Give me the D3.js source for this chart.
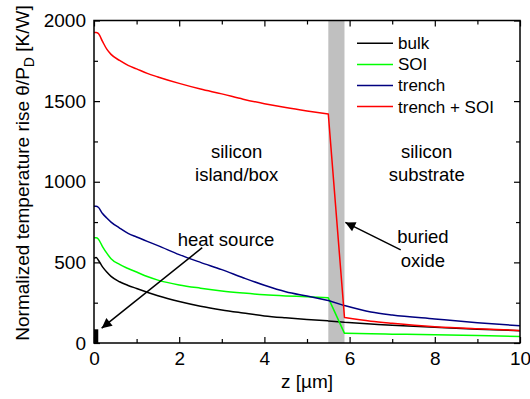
<!DOCTYPE html>
<html>
<head>
<meta charset="utf-8">
<script src="https://cdn.jsdelivr.net/npm/d3@7"></script>
<style>
  body { margin: 0; background: #fff; }
  text { font-family: Arial, "Liberation Sans", sans-serif; fill: #000; }
</style>
</head>
<body>
<div id="chart"></div>
<script>
// Data
const zValues   = [0, 0.05, 0.1, 0.2, 0.3, 0.4, 0.6, 0.8, 1.0, 1.25, 1.5, 2.0, 2.5, 3.0, 3.5, 4.0, 4.5, 5.0, 5.5, 5.88, 6.5, 7, 8, 9, 10];
const bulk      = [525, 530, 515, 472, 440, 413, 380, 357, 338, 315, 293, 257, 228, 205, 186, 168, 156, 146, 137, 128, 118, 110, 97, 86, 76];
const soi       = [652, 652, 645, 598, 557, 523, 487, 462, 440, 412, 390, 360, 340, 323, 310, 299, 292, 287, 280, 60, 57, 55, 51, 46, 41];
const trench    = [848, 848, 842, 803, 775, 750, 713, 680, 657, 630, 604, 548, 500, 455, 405, 358, 318, 291, 264, 232, 192, 173, 149, 126, 107];
const trenchSoi = [1925, 1925, 1920, 1870, 1822, 1790, 1752, 1722, 1700, 1672, 1650, 1610, 1575, 1545, 1512, 1484, 1460, 1439, 1420, 158, 135, 122, 101, 88, 78];

const seriesNames  = ["bulk", "SOI", "trench", "trench + SOI"];
const seriesColors = ["#000000", "#00ff00", "#000080", "#ff0000"];
const seriesData   = [bulk, soi, trench, trenchSoi];

const oxideBand  = [5.5, 5.88];
const heatSource = { z0: 0, z1: 0.1, value: 85 };

const xTicks = [0, 2, 4, 6, 8, 10];
const yTicks = [0, 500, 1000, 1500, 2000];

// Chart dimensions
const W = 530, H = 399;
const margin = { top: 20.5, right: 10, bottom: 56, left: 94 };
const width = W - margin.left - margin.right;
const height = H - margin.top - margin.bottom;

const x = d3.scaleLinear().domain([0, 10]).range([0, width]);
const y = d3.scaleLinear().domain([0, 2000]).range([height, 0]);

const svg = d3.select("#chart").append("svg")
    .attr("width", W)
    .attr("height", H)
  .append("g")
    .attr("transform", `translate(${margin.left},${margin.top})`);

svg.append("defs").append("marker")
    .attr("id", "arrow")
    .attr("viewBox", "0 0 10 10")
    .attr("refX", 10)
    .attr("refY", 5)
    .attr("markerWidth", 12)
    .attr("markerHeight", 10)
    .attr("markerUnits", "userSpaceOnUse")
    .attr("orient", "auto")
  .append("path")
    .attr("d", "M0,0L10,5L0,10z")
    .attr("fill", "#000");

// buried oxide band
svg.append("rect")
    .attr("x", x(oxideBand[0]))
    .attr("y", 0)
    .attr("width", x(oxideBand[1]) - x(oxideBand[0]))
    .attr("height", height)
    .attr("fill", "#c0c0c0");

// heat source block
svg.append("rect")
    .attr("x", x(heatSource.z0))
    .attr("y", y(heatSource.value))
    .attr("width", x(heatSource.z1) - x(heatSource.z0))
    .attr("height", y(0) - y(heatSource.value))
    .attr("fill", "#000");

// curves: smooth in silicon, straight through the oxide
const smooth = d3.line()
    .curve(d3.curveMonotoneX)
    .x(d => x(d[0]))
    .y(d => y(d[1]));
const straight = d3.line()
    .x(d => x(d[0]))
    .y(d => y(d[1]));

seriesData.forEach((vals, i) => {
    const pts = zValues.map((z, j) => [z, vals[j]]);
    const island = pts.filter(p => p[0] <= oxideBand[0]);
    const oxide = pts.filter(p => p[0] >= oxideBand[0] && p[0] <= oxideBand[1]);
    const substrate = pts.filter(p => p[0] >= oxideBand[1]);
    const d = smooth(island) + straight(oxide).replace(/^M/, "L") + smooth(substrate).replace(/^M/, "L");
    svg.append("path")
        .attr("fill", "none")
        .attr("stroke", seriesColors[i])
        .attr("stroke-width", 1.5)
        .attr("stroke-linejoin", "round")
        .attr("d", d);
});

// axes with inward ticks
const minorX = d3.range(1, 10, 2);
const minorY = d3.range(250, 2000, 500);

function styleAxis(g) {
    g.select(".domain").remove();
    g.selectAll("line").attr("stroke", "#000").attr("stroke-width", 1.2);
    g.selectAll("text").style("font-size", "19px");
}

svg.append("g")
    .attr("transform", `translate(0,${height})`)
    .call(d3.axisBottom(x).tickValues(xTicks).tickSize(-6).tickPadding(9))
    .call(styleAxis);
svg.append("g")
    .attr("transform", `translate(0,${height})`)
    .call(d3.axisBottom(x).tickValues(minorX).tickSize(-4).tickFormat(""))
    .call(styleAxis);
svg.append("g")
    .call(d3.axisTop(x).tickValues(xTicks).tickSize(-6).tickFormat(""))
    .call(styleAxis);
svg.append("g")
    .call(d3.axisTop(x).tickValues(minorX).tickSize(-4).tickFormat(""))
    .call(styleAxis);

svg.append("g")
    .call(d3.axisLeft(y).tickValues(yTicks).tickSize(-6).tickPadding(8).tickFormat(d3.format("d")))
    .call(styleAxis);
svg.append("g")
    .call(d3.axisLeft(y).tickValues(minorY).tickSize(-4).tickFormat(""))
    .call(styleAxis);
svg.append("g")
    .attr("transform", `translate(${width},0)`)
    .call(d3.axisRight(y).tickValues(yTicks).tickSize(-6).tickFormat(""))
    .call(styleAxis);
svg.append("g")
    .attr("transform", `translate(${width},0)`)
    .call(d3.axisRight(y).tickValues(minorY).tickSize(-4).tickFormat(""))
    .call(styleAxis);

// frame
svg.append("rect")
    .attr("width", width)
    .attr("height", height)
    .attr("fill", "none")
    .attr("stroke", "#000")
    .attr("stroke-width", 1.5);

// axis titles
svg.append("text")
    .attr("x", width / 2)
    .attr("y", height + 45)
    .attr("text-anchor", "middle")
    .style("font-size", "19px")
    .text("z [µm]");

const yLabel = svg.append("text")
    .attr("transform", `translate(${29 - margin.left},${173 - margin.top}) rotate(-90)`)
    .attr("text-anchor", "middle")
    .style("font-size", "19px");
yLabel.append("tspan").text("Normalized temperature rise θ/P");
yLabel.append("tspan").attr("dy", 5).style("font-size", "14px").text("D");
yLabel.append("tspan").attr("dy", -5).text(" [K/W]");

// legend
const legend = svg.append("g")
    .attr("transform", `translate(${357 - margin.left},${43.3 - margin.top})`);
seriesNames.forEach((name, i) => {
    const row = legend.append("g").attr("transform", `translate(0,${i * 21.1})`);
    row.append("line")
        .attr("x1", 0).attr("x2", 36)
        .attr("stroke", seriesColors[i])
        .attr("stroke-width", 1.5);
    row.append("text")
        .attr("x", 41)
        .attr("dy", "0.35em")
        .style("font-size", "17px")
        .text(name);
});

// annotations
const notes = [
    { z: 3.35, v: 1150, lines: ["silicon", "island/box"] },
    { z: 7.81, v: 1150, lines: ["silicon", "substrate"] },
    { z: 7.72, v: 620, lines: ["buried", "oxide"] },
    { z: 3.1, v: 603, lines: ["heat source"] }
];
notes.forEach(n => {
    const t = svg.append("text")
        .attr("x", x(n.z))
        .attr("y", y(n.v))
        .attr("text-anchor", "middle")
        .style("font-size", "18.5px");
    n.lines.forEach((s, k) => {
        t.append("tspan").attr("x", x(n.z)).attr("dy", k === 0 ? 0 : 23.5).text(s);
    });
});

const arrows = [
    { from: [2.54, 591], to: [0.18, 92] },
    { from: [7.2, 578], to: [5.9, 748] }
];
arrows.forEach(a => {
    svg.append("line")
        .attr("x1", x(a.from[0])).attr("y1", y(a.from[1]))
        .attr("x2", x(a.to[0])).attr("y2", y(a.to[1]))
        .attr("stroke", "#000")
        .attr("stroke-width", 1.5)
        .attr("marker-end", "url(#arrow)");
});
</script>
</body>
</html>
